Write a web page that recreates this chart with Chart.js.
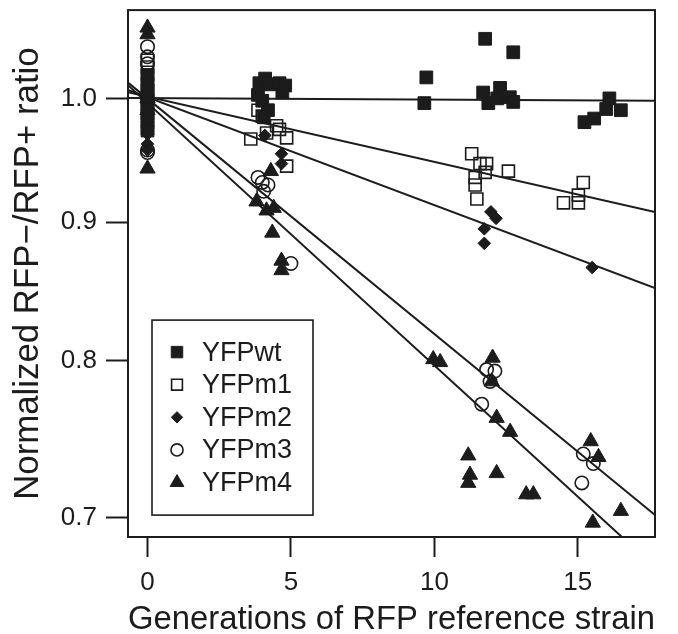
<!DOCTYPE html>
<html><head><meta charset="utf-8">
<script src="https://cdn.jsdelivr.net/npm/chart.js@4/dist/chart.umd.min.js"></script>
<style>html,body{margin:0;padding:0;background:#fff}#wrap{width:678px;height:634px}</style>
</head><body><div id="wrap"><canvas id="c" width="678" height="634"></canvas></div>
<script>
// ---- data ----
const seriesNames = ['YFPwt', 'YFPm1', 'YFPm2', 'YFPm3', 'YFPm4'];

const wtX = [0,0,0,0,0,0,0,0,0, 3.9,4.1,4.25,4.6,4.8,3.85,4.0,4.7,4.2,4.05, 9.72,9.65,11.77,12.75,11.7,12.29,11.88,12.19,12.63,12.75, 15.23,15.57,15.99,16.1,16.5];
const wtY = [1.02,1.013,1.007,1.002,0.998,0.993,0.987,0.98,0.973, 1.013,1.017,1.012,1.013,1.011,1.003,0.998,1.005,0.99,0.984, 1.018,0.996,1.052,1.04,1.005,1.009,0.996,1.0,1.001,0.997, 0.98,0.983,0.991,1.0,0.99];

const m1X = [0,0,0,0,0,0,0, 3.6,3.85,4.0,4.15,4.5,4.6,4.85,4.85, 11.3,11.59,11.82,11.77,11.42,11.42,11.48,12.58, 15.19,14.5,15.02,15.02];
const m1Y = [1.033,1.027,1.02,1.008,0.995,0.985,0.975, 0.966,0.99,0.985,0.971,0.977,0.974,0.967,0.944, 0.954,0.946,0.946,0.939,0.935,0.929,0.918,0.94, 0.931,0.915,0.921,0.915];

const m2X = [0,0,0,0,0,0,0, 4.09,4.67,4.67, 11.97,12.15,11.74,11.74, 15.5];
const m2Y = [1.012,1.003,0.995,0.985,0.97,0.962,0.957, 0.969,0.954,0.946, 0.908,0.903,0.895,0.884, 0.866];

const m3X = [0,0,0,0,0,0, 3.85,4.0,4.2,4.05,5.0, 11.82,12.11,11.94,11.65, 15.19,15.54,15.14];
const m3Y = [1.045,1.036,1.03,1.0,0.957,0.955, 0.935,0.931,0.929,0.924,0.869, 0.794,0.793,0.786,0.771, 0.739,0.733,0.721];

const m4X = [0,0,0,0,0, 4.3,3.8,4.15,4.4,4.35,4.67,4.67, 9.96,10.2,12.03,12.0,12.17,12.64,11.18,11.24,11.18,12.17,13.2,13.45, 15.45,15.72,15.52,16.5];
const m4Y = [1.062,1.056,1.0,0.99,0.942, 0.94,0.916,0.909,0.911,0.892,0.871,0.864, 0.801,0.799,0.802,0.786,0.762,0.753,0.738,0.726,0.721,0.727,0.714,0.714, 0.747,0.737,0.697,0.704];

// fitted lines (read at the left and right edges of the plot)
const fitX  = [-0.68, 17.69];
const wtFit = [1.0003, 0.998];
const m1Fit = [1.0052, 0.9078];
const m2Fit = [1.0073, 0.851];
const m3Fit = [1.0135, 0.7016];
const m4Fit = [1.0113, 0.6711];

const xTicks = [0, 5, 10, 15];
const yTicks = [0.7, 0.8, 0.9, 1.0];

// ---- build chart ----
const INK = '#1c1c1c';
const FONT = "'Liberation Sans', Arial, Helvetica, sans-serif";
const pts = (xs, ys) => xs.map((x, i) => ({x: x, y: ys[i]}));

const markerStyles = [
  {pointStyle: 'rect',     r: 9,   filled: true,  bw: 1},
  {pointStyle: 'rect',     r: 8.5, filled: false, bw: 1.6},
  {pointStyle: 'rectRot',  r: 6.3, filled: true,  bw: 1},
  {pointStyle: 'circle',   r: 6.7, filled: false, bw: 1.6},
  {pointStyle: 'triangle', r: 8.8, filled: true,  bw: 1}
];
const pointSets = [pts(wtX, wtY), pts(m1X, m1Y), pts(m2X, m2Y), pts(m3X, m3Y), pts(m4X, m4Y)];
const fitSets = [wtFit, m1Fit, m2Fit, m3Fit, m4Fit];

const datasets = [];
pointSets.forEach((d, i) => {
  const m = markerStyles[i];
  datasets.push({
    type: 'scatter', label: seriesNames[i], data: d,
    pointStyle: m.pointStyle, pointRadius: m.r, pointHoverRadius: m.r,
    backgroundColor: m.filled ? INK : 'rgba(0,0,0,0)', borderColor: INK,
    pointBorderWidth: m.bw, borderWidth: m.bw, showLine: false, order: 10 - i
  });
});
fitSets.forEach((f, i) => {
  datasets.push({
    type: 'line', label: seriesNames[i] + ' fit', data: pts(fitX, f),
    borderColor: INK, borderWidth: 2, pointRadius: 0, fill: false, tension: 0, order: 20
  });
});

function drawMarker(ctx, style, x, y, r, filled, lw) {
  ctx.beginPath();
  if (style === 'rect') { const s = r * Math.SQRT1_2; ctx.rect(x - s, y - s, 2 * s, 2 * s); }
  else if (style === 'rectRot') { ctx.moveTo(x, y - r); ctx.lineTo(x + r, y); ctx.lineTo(x, y + r); ctx.lineTo(x - r, y); ctx.closePath(); }
  else if (style === 'circle') { ctx.arc(x, y, r, 0, 2 * Math.PI); }
  else { ctx.moveTo(x, y - r); ctx.lineTo(x + r * 0.866, y + r / 2); ctx.lineTo(x - r * 0.866, y + r / 2); ctx.closePath(); }
  ctx.fillStyle = INK; ctx.strokeStyle = INK; ctx.lineWidth = lw;
  if (filled) ctx.fill();
  ctx.stroke();
}

const framePlugin = {
  id: 'frameLegend',
  afterDraw(chart) {
    const {ctx, chartArea: a} = chart;
    ctx.save();
    ctx.strokeStyle = INK; ctx.lineWidth = 2;
    ctx.strokeRect(a.left, a.top, a.right - a.left, a.bottom - a.top);
    // legend box inside plot
    const bx = a.left + 24, by = a.top + 310, bw = 161, bh = 195;
    ctx.fillStyle = '#fff';
    ctx.fillRect(bx, by, bw, bh);
    ctx.lineWidth = 1.6; ctx.strokeStyle = INK;
    ctx.strokeRect(bx, by, bw, bh);
    ctx.font = '27px ' + FONT;
    ctx.textBaseline = 'middle'; ctx.textAlign = 'left';
    seriesNames.forEach((name, i) => {
      const m = markerStyles[i];
      const cy = by + 32 + i * 32.6;
      drawMarker(ctx, m.pointStyle, bx + 25, cy, m.r * 0.9, m.filled, m.bw);
      ctx.fillStyle = INK;
      ctx.fillText(name, bx + 50, cy + 1);
    });
    ctx.restore();
  }
};

new Chart(document.getElementById('c'), {
  data: {datasets: datasets},
  options: {
    responsive: false, animation: false, devicePixelRatio: 1, events: [],
    layout: {padding: {top: 10, right: 23, left: 0, bottom: 0}},
    plugins: {legend: {display: false}, tooltip: {enabled: false}},
    scales: {
      x: {
        type: 'linear', position: 'bottom', min: -0.68, max: 17.69,
        afterBuildTicks: s => { s.ticks = xTicks.map(v => ({value: v})); },
        afterFit: s => { s.height = 97; s.paddingLeft = 0; s.paddingRight = 0; },
        grid: {drawOnChartArea: false, drawTicks: true, tickLength: 20, tickColor: INK, tickWidth: 2},
        border: {display: false},
        ticks: {color: INK, font: {size: 26, family: FONT}, padding: 10, maxRotation: 0, autoSkip: false,
                callback: v => String(v)},
        title: {display: true, text: 'Generations of RFP reference strain', color: INK,
                font: {size: 33.5, family: FONT, lineHeight: 0.8}, padding: {top: 0, bottom: 1}}
      },
      y: {
        type: 'logarithmic', position: 'left', min: 0.6886, max: 1.078,
        afterBuildTicks: s => { s.ticks = yTicks.map(v => ({value: v})); },
        afterFit: s => { s.width = 128; s.paddingTop = 0; s.paddingBottom = 0; },
        grid: {drawOnChartArea: false, drawTicks: true, tickLength: 22, tickColor: INK, tickWidth: 2},
        border: {display: false},
        ticks: {color: INK, font: {size: 26, family: FONT}, padding: 9, autoSkip: false,
                callback: v => Number(v).toFixed(1)},
        title: {display: true, text: 'Normalized RFP\u2212/RFP+ ratio', color: INK,
                font: {size: 34.8, family: FONT, lineHeight: 0.8}, padding: {top: 14}}
      }
    }
  },
  plugins: [framePlugin]
});
</script>
</body></html>
